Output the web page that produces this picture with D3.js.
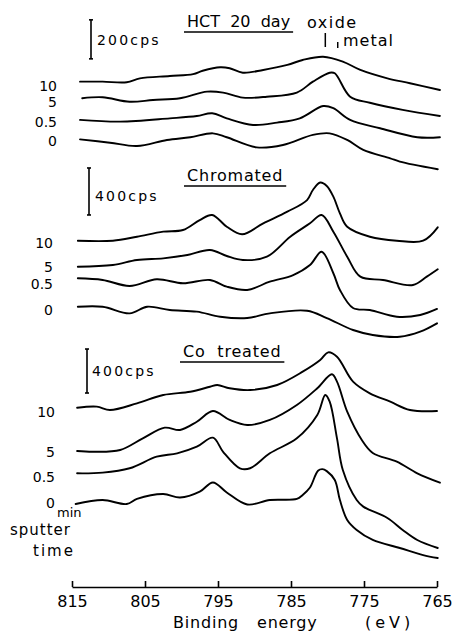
<!DOCTYPE html>
<html>
<head>
<meta charset="utf-8" />
<title>Cr 2p spectra vs sputter time</title>
<script src="https://d3js.org/d3.v7.min.js"></script>
<style>
  body { margin: 0; background: #fff; }
  svg text { font-family: "DejaVu Sans", sans-serif; fill: #000; white-space: pre; }
  .axis path, .axis line { stroke: #000; stroke-width: 1.6; }
  .axis text { font-size: 16px; }
  .curve { fill: none; stroke: #000; stroke-width: 1.9; stroke-linejoin: round; stroke-linecap: round; }
</style>
</head>
<body>
<div id="chart"></div>
<script>
// binding energy ticks (eV)
var energyTicks = [815, 805, 795, 785, 775, 765];
var panelTitles = ["HCT  20  day", "Chromated", "Co  treated"];
var sputterLabels = ["10", "5", "0.5", "0"];
var scaleBarCps = [200, 400, 400];
var scaleBarBottom = [570, 1064, 1518]; // cps level where the scale bar starts
var oxideE = 780.3, metalE = 778.6;

// HCT 20 day
var hct10E = [813.9, 810.8, 807.5, 805.7, 801.6, 798.4, 797.1, 794.7, 793.4, 791.6, 788.8, 785.5, 783.4, 780.6, 777.9, 775.5, 771.8, 768.7, 764.6];
var hct10 = [453, 453, 450, 470, 482, 492, 509, 527, 522, 499, 513, 539, 564, 581, 556, 513, 470, 445, 410];
var hct5E = [813.6, 810.8, 807.1, 803.9, 800.2, 796.5, 794.3, 791.6, 788.3, 784.2, 782.0, 779.7, 779.0, 776.9, 774.2, 769.7, 764.6];
var hct5 = [368, 373, 350, 359, 368, 402, 397, 371, 376, 397, 453, 499, 496, 376, 345, 308, 277];
var hct05E = [813.9, 808.4, 801.6, 797.9, 795.8, 793.8, 790.2, 786.9, 783.8, 780.6, 779.2, 776.9, 772.8, 767.7, 764.6];
var hct05 = [257, 248, 265, 277, 291, 265, 231, 243, 265, 328, 317, 257, 214, 168, 168];
var hct0E = [813.9, 809.8, 806.1, 802.0, 798.8, 795.7, 793.8, 789.7, 786.1, 782.0, 779.7, 777.3, 775.1, 771.4, 770.1, 764.9];
var hct0 = [157, 140, 123, 154, 168, 188, 168, 116, 128, 180, 188, 154, 103, 60, 43, 4];

// Chromated
var chr10E = [814.2, 809.4, 806.1, 802.5, 799.8, 797.5, 795.8, 793.8, 791.7, 788.8, 785.5, 782.8, 782.0, 781.0, 780.1, 779.2, 778.3, 777.3, 774.2, 770.5, 766.9, 764.9];
var chr10 = [845, 845, 879, 922, 936, 1021, 1064, 964, 900, 993, 1092, 1191, 1277, 1340, 1311, 1220, 1078, 964, 879, 845, 845, 959];
var chr5E = [814.2, 809.4, 806.1, 802.5, 799.2, 796.1, 793.8, 791.6, 788.3, 785.1, 782.4, 780.8, 779.2, 777.3, 775.5, 772.4, 768.3, 766.4, 764.9];
var chr5 = [624, 638, 681, 695, 723, 766, 715, 681, 709, 879, 993, 1064, 922, 709, 539, 511, 468, 539, 602];
var chr05E = [814.2, 810.8, 807.1, 803.4, 799.8, 796.1, 793.8, 791.0, 787.9, 784.7, 782.4, 780.8, 779.2, 778.3, 776.5, 774.2, 770.5, 767.3, 765.0];
var chr05 = [525, 511, 460, 517, 483, 511, 454, 426, 496, 553, 638, 751, 568, 426, 272, 255, 198, 213, 264];
var chr0E = [814.2, 810.8, 807.1, 804.7, 801.6, 797.9, 794.7, 791.0, 787.9, 782.8, 780.1, 776.5, 773.8, 770.1, 767.3, 765.0];
var chr0 = [283, 283, 227, 283, 255, 241, 198, 187, 227, 249, 187, 85, 43, 28, 71, 142];

// Co treated
var co10E = [814.3, 811.6, 809.8, 806.1, 802.5, 798.8, 796.1, 795.1, 793.4, 790.6, 786.9, 783.4, 781.0, 779.9, 778.7, 776.5, 774.2, 771.4, 768.7, 765.0];
var co10 = [1384, 1394, 1364, 1424, 1500, 1530, 1575, 1591, 1561, 1545, 1591, 1712, 1818, 1888, 1848, 1621, 1515, 1439, 1364, 1354];
var co5E = [814.3, 812.1, 808.4, 805.3, 802.3, 800.2, 797.9, 795.7, 793.4, 791.0, 787.9, 784.2, 781.4, 779.4, 778.7, 777.3, 775.3, 773.8, 770.5, 767.7, 764.6];
var co5 = [991, 984, 1000, 1106, 1203, 1182, 1257, 1354, 1273, 1227, 1273, 1409, 1561, 1688, 1621, 1348, 1091, 973, 894, 788, 703];
var co05E = [814.3, 810.8, 807.1, 803.4, 800.6, 797.9, 795.7, 794.3, 792.0, 790.6, 787.9, 784.2, 781.4, 780.3, 779.7, 778.7, 777.9, 776.0, 775.1, 771.8, 769.7, 767.7, 764.9];
var co05 = [788, 794, 834, 939, 970, 1030, 1112, 984, 834, 834, 970, 1106, 1318, 1500, 1439, 1106, 818, 545, 485, 382, 273, 182, 109];
var co0E = [814.5, 810.8, 807.5, 806.1, 802.5, 800.2, 797.5, 795.7, 793.8, 791.0, 787.9, 784.2, 783.4, 782.4, 781.3, 780.7, 780.1, 779.0, 778.3, 777.3, 776.0, 773.8, 770.1, 766.9, 764.9];
var co0 = [509, 545, 509, 555, 600, 568, 621, 705, 614, 505, 545, 555, 591, 659, 812, 826, 808, 727, 545, 364, 273, 182, 109, 45, 18];

var curves = [
  [[hct10E, hct10], [hct5E, hct5], [hct05E, hct05], [hct0E, hct0]],
  [[chr10E, chr10], [chr5E, chr5], [chr05E, chr05], [chr0E, chr0]],
  [[co10E, co10], [co5E, co5], [co05E, co05], [co0E, co0]]
];

var width = 452, height = 636;
var svg = d3.select("#chart").append("svg")
  .attr("width", width)
  .attr("height", height);

var x = d3.scaleLinear().domain([815, 765]).range([72, 437]);

// layout of each panel: zero level, pixels per scale bar, label/title spots
var panelLayout = [
  { y0: 170, barPx: 39, barX: 91, labelX: 57, labelDy: [9, 9, 7, 7], cpsX: 97, cpsY: 45, titleX: 187, titleY: 27, spacing: 0 },
  { y0: 340, barPx: 47, barX: 89, labelX: 53, labelDy: [7, 5, 11, 8], cpsX: 95, cpsY: 201, titleX: 187, titleY: 181, spacing: 0.8 },
  { y0: 560, barPx: 44, barX: 87, labelX: 55, labelDy: [9, 6, 9, 4], cpsX: 92, cpsY: 376, titleX: 183, titleY: 357, spacing: 0.8 }
];

var line = d3.line()
  .x(function (d) { return x(d[0]); })
  .y(function (d) { return d[1]; })
  .curve(d3.curveCatmullRom.alpha(0.5));

panelLayout.forEach(function (p, i) {
  var y = d3.scaleLinear().domain([0, scaleBarCps[i]]).range([p.y0, p.y0 - p.barPx]);
  var g = svg.append("g");

  curves[i].forEach(function (c, j) {
    var pts = c[0].map(function (e, k) { return [e, y(c[1][k])]; });
    g.append("path").attr("class", "curve").attr("d", line(pts));
    g.append("text")
      .attr("x", p.labelX)
      .attr("y", y(c[1][0]) + p.labelDy[j])
      .attr("text-anchor", "end")
      .style("font-size", "14px")
      .text(sputterLabels[j]);
  });

  // scale bar
  var yb0 = y(scaleBarBottom[i]), yb1 = y(scaleBarBottom[i] + scaleBarCps[i]);
  g.append("line").attr("x1", p.barX).attr("x2", p.barX).attr("y1", yb0).attr("y2", yb1)
    .attr("stroke", "#000").attr("stroke-width", 1.6);
  [yb0, yb1].forEach(function (yy) {
    g.append("line").attr("x1", p.barX - 2).attr("x2", p.barX + 2).attr("y1", yy).attr("y2", yy)
      .attr("stroke", "#000").attr("stroke-width", 1.6);
  });
  g.append("text")
    .attr("x", p.cpsX).attr("y", p.cpsY)
    .style("font-size", "14px").style("letter-spacing", "2.2px")
    .text(scaleBarCps[i] + "cps");

  // title with underline
  var t = g.append("text")
    .attr("x", p.titleX).attr("y", p.titleY)
    .style("font-size", "16px").style("letter-spacing", p.spacing + "px")
    .text(panelTitles[i]);
  var bb = t.node().getBBox();
  g.append("line")
    .attr("x1", bb.x - 3).attr("x2", bb.x + bb.width + 3)
    .attr("y1", p.titleY + 5).attr("y2", p.titleY + 5)
    .attr("stroke", "#000").attr("stroke-width", 1.6);
});

// oxide / metal markers
svg.append("text").attr("x", 307).attr("y", 28)
  .style("font-size", "16px").style("letter-spacing", "1.5px").text("oxide");
svg.append("line").attr("x1", x(oxideE)).attr("x2", x(oxideE)).attr("y1", 33).attr("y2", 47)
  .attr("stroke", "#000").attr("stroke-width", 1.5);
svg.append("line").attr("x1", x(metalE)).attr("x2", x(metalE)).attr("y1", 42).attr("y2", 48)
  .attr("stroke", "#000").attr("stroke-width", 1.5);
svg.append("text").attr("x", 343).attr("y", 46)
  .style("font-size", "16px").style("letter-spacing", "1px").text("metal");

// sputter time note
svg.append("text").attr("x", 57).attr("y", 517).style("font-size", "13px").text("min");
svg.append("text").attr("x", 10).attr("y", 535).style("font-size", "15px").style("letter-spacing", "1px").text("sputter");
svg.append("text").attr("x", 33).attr("y", 556).style("font-size", "15px").style("letter-spacing", "2px").text("time");

// x axis
var xAxis = d3.axisBottom(x)
  .tickValues(energyTicks)
  .tickSizeInner(-6)
  .tickSizeOuter(0)
  .tickPadding(9)
  .tickFormat(d3.format("d"));
svg.append("g")
  .attr("class", "axis")
  .attr("transform", "translate(0,587)")
  .call(xAxis);

svg.append("text").attr("x", 173).attr("y", 628).style("font-size", "16px").style("letter-spacing", "0.8px").text("Binding");
svg.append("text").attr("x", 257).attr("y", 628).style("font-size", "16px").style("letter-spacing", "0.8px").text("energy");
svg.append("text").attr("x", 365).attr("y", 628).style("font-size", "16px").style("letter-spacing", "4px").text("(eV)");
</script>
</body>
</html>
